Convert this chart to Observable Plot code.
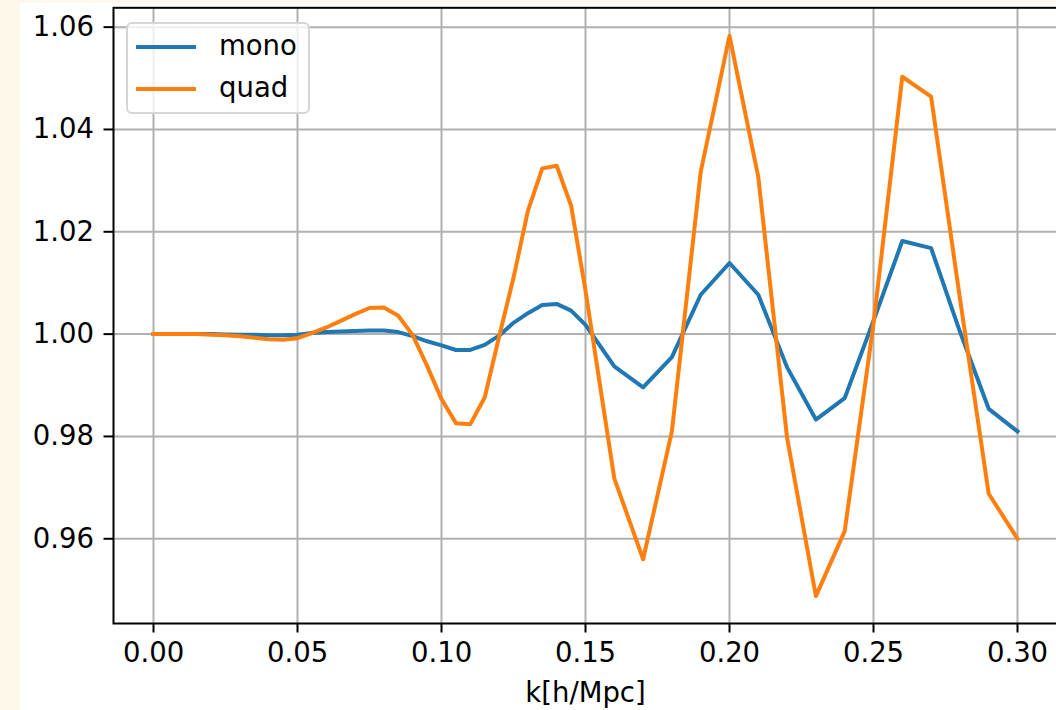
<!DOCTYPE html>
<html>
<head>
<meta charset="utf-8">
<script src="https://cdn.jsdelivr.net/npm/d3@7"></script>
<script src="https://cdn.jsdelivr.net/npm/@observablehq/plot@0.6"></script>
<style>
  html, body { margin: 0; padding: 0; background: #fdf8ea; overflow: hidden; width: 1056px; height: 710px; }
  #wrap { position: absolute; left: 20px; top: 3px; width: 1045px; height: 707px; background: #ffffff; }
  #legend { position: absolute; left: 106px; top: 19px; width: 180px; height: 88px;
            border: 2px solid #d6d6d6; border-radius: 6px; background: rgba(255,255,255,0.8);
            font-family: "DejaVu Sans", sans-serif; font-size: 27.5px; color: #000; }
  .sw { position: absolute; left: 8px; width: 60px; height: 4px; }
  .lab { position: absolute; left: 91px; line-height: 30px; }
</style>
</head>
<body>
<div id="wrap"></div>
<script>
const k = [0, 0.005, 0.01, 0.015, 0.02, 0.025, 0.03, 0.035, 0.04, 0.045, 0.05, 0.055, 0.06, 0.065, 0.07, 0.075, 0.08, 0.085, 0.09, 0.095, 0.10, 0.105, 0.11, 0.115, 0.12, 0.125, 0.13, 0.135, 0.14, 0.145, 0.15, 0.16, 0.17, 0.18, 0.19, 0.20, 0.21, 0.22, 0.23, 0.24, 0.25, 0.26, 0.27, 0.28, 0.29, 0.30];
const mono = [1.0000, 1.0000, 1.0000, 1.0000, 1.0000, 0.99995, 0.9999, 0.9999, 0.9998, 0.9998, 0.9999, 1.0002, 1.0004, 1.0005, 1.0006, 1.0007, 1.0007, 1.0004, 0.9996, 0.9986, 0.9978, 0.9969, 0.9969, 0.9979, 0.9997, 1.0022, 1.0041, 1.0057, 1.0059, 1.0046, 1.0018, 0.9937, 0.9896, 0.9955, 1.0077, 1.0139, 1.0077, 0.9935, 0.9833, 0.9875, 1.0026, 1.0182, 1.0168, 1.0005, 0.9854, 0.9810];
const quad = [1.0000, 1.0000, 1.0000, 1.0000, 0.9999, 0.9998, 0.9996, 0.9993, 0.9990, 0.9989, 0.9992, 1.0002, 1.0013, 1.0026, 1.0039, 1.0051, 1.0052, 1.0036, 0.9998, 0.9938, 0.9873, 0.9826, 0.9824, 0.9876, 0.9995, 1.0110, 1.0241, 1.0324, 1.0329, 1.0251, 1.0085, 0.9718, 0.9560, 0.9810, 1.0317, 1.0583, 1.0307, 0.9797, 0.9488, 0.9615, 1.0020, 1.0503, 1.0464, 1.0070, 0.9688, 0.9600];
const seriesNames = ["mono", "quad"];
const seriesColors = ["#1f77b4", "#ff7f0e"];
const xTicks = [0, 0.05, 0.10, 0.15, 0.20, 0.25, 0.30];
const yTicks = [0.96, 0.98, 1.00, 1.02, 1.04, 1.06];
const xLabel = "k[h/Mpc]";

const rows = [];
k.forEach((kv, i) => {
  rows.push({k: kv, v: mono[i], s: seriesNames[0]});
  rows.push({k: kv, v: quad[i], s: seriesNames[1]});
});

const fmt = d3.format(".2f");
const chart = Plot.plot({
  width: 1045,
  height: 707,
  marginLeft: 93,
  marginRight: 8,
  marginTop: 4.3,
  marginBottom: 87,
  style: {fontFamily: "DejaVu Sans, sans-serif", fontSize: "27.5px", color: "#000", background: "#fff", overflow: "visible"},
  x: {domain: [-0.01389, 0.31389]},
  y: {domain: [0.94344, 1.06378]},
  color: {domain: seriesNames, range: seriesColors},
  marks: [
    Plot.gridX(xTicks, {stroke: "#b0b0b0", strokeOpacity: 1, strokeWidth: 2}),
    Plot.gridY(yTicks, {stroke: "#b0b0b0", strokeOpacity: 1, strokeWidth: 2}),
    Plot.line(rows, {x: "k", y: "v", z: "s", stroke: "s", strokeWidth: 4, strokeLinejoin: "round", strokeLinecap: "square"}),
    Plot.frame({stroke: "#000", strokeWidth: 2}),
    Plot.axisX(xTicks, {tickFormat: fmt, tickSize: 9.5, tickPadding: 9, strokeWidth: 2, fontSize: 27.5,
      label: xLabel, labelAnchor: "center", labelArrow: "none", labelOffset: 78}),
    Plot.axisY(yTicks, {tickFormat: fmt, tickSize: 9.5, tickPadding: 10, strokeWidth: 2, fontSize: 27.5, label: null})
  ]
});
const wrap = document.getElementById("wrap");
wrap.appendChild(chart);

const legend = document.createElement("div");
legend.id = "legend";
seriesNames.forEach((name, i) => {
  const sw = document.createElement("div");
  sw.className = "sw";
  sw.style.background = seriesColors[i];
  sw.style.top = (21 + i * 41.6) + "px";
  legend.appendChild(sw);
  const t = document.createElement("div");
  t.className = "lab";
  t.style.top = (6 + i * 41.6) + "px";
  t.textContent = name;
  legend.appendChild(t);
});
wrap.appendChild(legend);
</script>
</body>
</html>
